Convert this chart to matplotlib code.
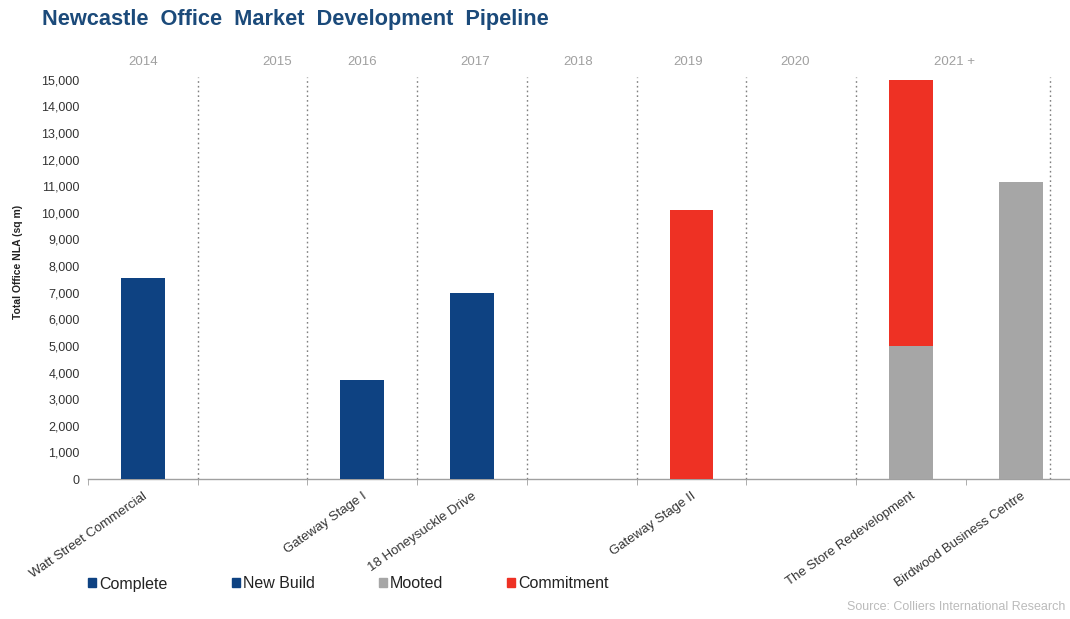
import matplotlib
matplotlib.use("Agg")
import matplotlib.pyplot as plt
from matplotlib.patches import Patch
from matplotlib.ticker import FuncFormatter

plt.rcParams['font.family'] = ['Liberation Sans', 'DejaVu Sans']

# ---- data ----
projects = ["Watt Street Commercial", "", "Gateway Stage I", "18 Honeysuckle Drive",
            "", "Gateway Stage II", "", "The Store Redevelopment", "Birdwood Business Centre"]
complete   = [7550, 0, 0,    0,    0, 0,     0, 0,    0]
new_build  = [0,    0, 3700, 7000, 0, 0,     0, 0,    0]
mooted     = [0,    0, 0,    0,    0, 0,     0, 5000, 11150]
commitment = [0,    0, 0,    0,    0, 10100, 0, 10000, 0]

years = ["2014", "2015", "2016", "2017", "2018", "2019", "2020", "2021 +"]
year_pos = [0.0, 1.22, 2.0, 3.03, 3.97, 4.97, 5.94, 7.4]
divider_pos = [0.5, 1.5, 2.5, 3.5, 4.5, 5.5, 6.5, 8.27]
yticks = list(range(0, 15001, 1000))

# ---- styling ----
NAVY = "#0E4282"
GREY = "#A6A6A6"
RED = "#EE3124"

fig = plt.figure(figsize=(10.70, 6.19), dpi=100)
ax = fig.add_axes([88/1070, 1-479/619, (1070-88)/1070, 402/619])

x = list(range(len(projects)))
w = 0.4
ax.bar(x, complete, w, color=NAVY, zorder=3)
ax.bar(x, new_build, w, color=NAVY, zorder=3)
ax.bar(x, mooted, w, color=GREY, zorder=3)
ax.bar(x, commitment, w, bottom=mooted, color=RED, zorder=3)

ax.set_xlim(-0.5, 8.45)
ax.set_ylim(0, 15100)

ax.vlines(divider_pos, 0, 15100, colors="#7F7F7F", linestyles=(0, (1.2, 2.2)), linewidth=1.0, zorder=2)

for s in ["top", "right", "left"]:
    ax.spines[s].set_visible(False)
ax.spines["bottom"].set_color("#A0A0A0")
ax.spines["bottom"].set_linewidth(1.0)

ax.set_yticks(yticks)
ax.yaxis.set_major_formatter(FuncFormatter(lambda v, p: f"{int(v):,}"))
ax.tick_params(axis="y", length=0, labelsize=9, labelcolor="#333333", pad=6)

ax.set_xticks(x)
ax.set_xticklabels(projects, rotation=35, ha="right", rotation_mode="anchor", fontsize=9.5, color="#333333")
ax.tick_params(axis="x", length=0, pad=8)
ax.set_xticks([i - 0.5 for i in range(len(projects))], minor=True)
ax.tick_params(axis="x", which="minor", length=4, color="#A0A0A0", direction="out")

ax.set_ylabel("Total Office NLA (sq m)", fontsize=7.5, fontweight="bold", color="#222222")
ax.yaxis.set_label_coords(-0.066, 0.54)

for yl, xp in zip(years, year_pos):
    ax.text(xp, 15650, yl, ha="center", va="center", fontsize=9.5, color="#A0A0A0")

fig.text(42/1070, 1-20/619, "Newcastle  Office  Market  Development  Pipeline", ha="left", va="center",
         fontsize=15.7, fontweight="bold", color="#1B4A7A")

handles = [Patch(color=NAVY), Patch(color=NAVY), Patch(color=GREY), Patch(color=RED)]
labels = ["Complete", "New Build", "Mooted", "Commitment"]
fig.legend(handles, labels, loc="center left", bbox_to_anchor=(74/1070, 1-584/619), ncol=4,
           frameon=False, fontsize=11.5, handlelength=0.5, handleheight=0.5, handletextpad=0.2,
           columnspacing=4.0, labelcolor="#222222")

fig.text(1065/1070, 1-607/619, "Source: Colliers International Research", ha="right", va="center",
         fontsize=9, color="#BBBBBB")

fig.savefig("out.png", dpi=100)
